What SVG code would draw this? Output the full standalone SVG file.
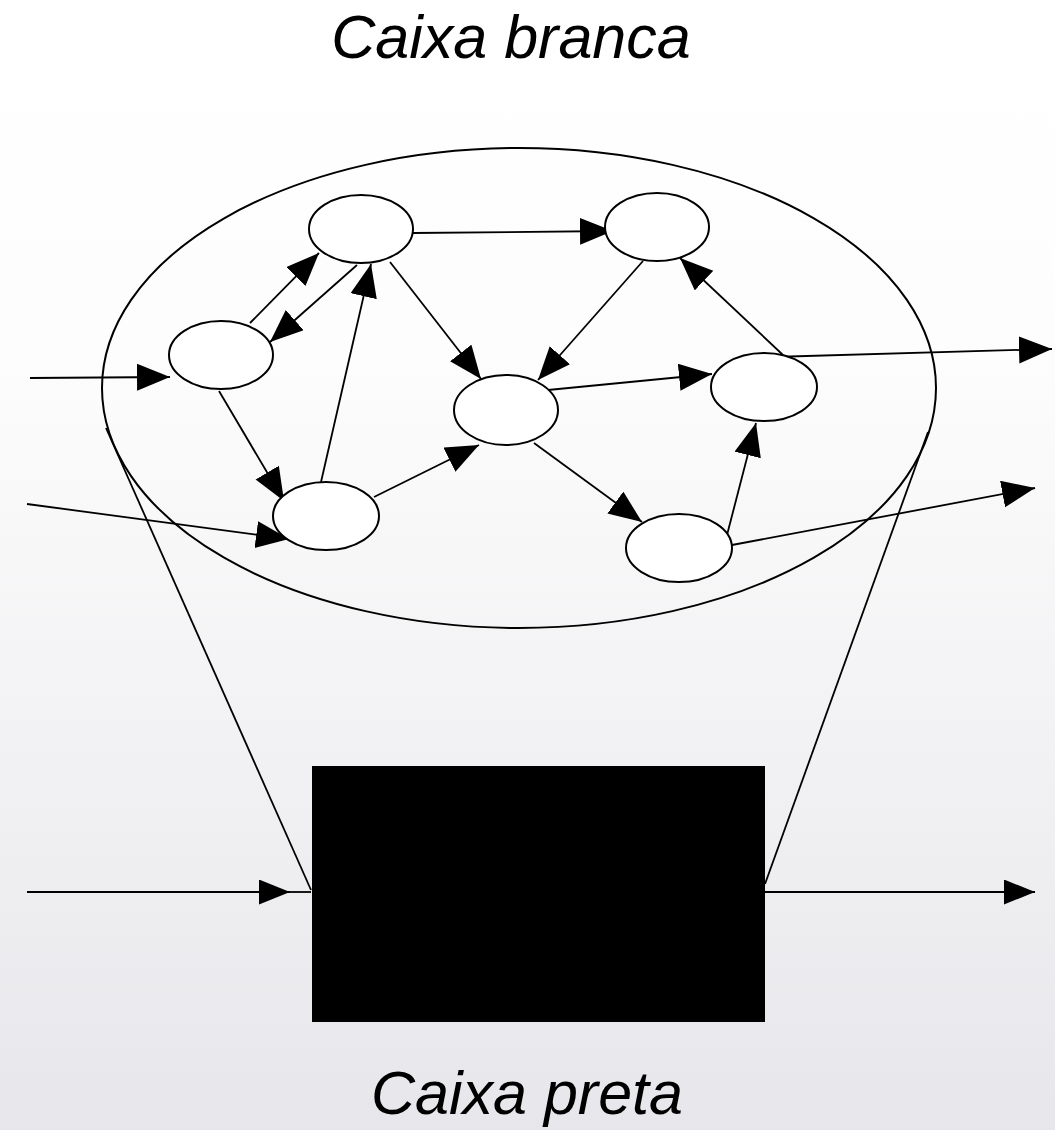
<svg xmlns="http://www.w3.org/2000/svg" width="1055" height="1130" viewBox="0 0 1055 1130">
  <defs>
    <linearGradient id="bg" x1="0" y1="0" x2="0" y2="1">
      <stop offset="0" stop-color="#ffffff"/>
      <stop offset="0.3" stop-color="#fdfdfd"/>
      <stop offset="1" stop-color="#e7e7eb"/>
    </linearGradient>
    <marker id="arr" markerUnits="userSpaceOnUse" markerWidth="34" markerHeight="28" refX="33" refY="13.5" orient="auto">
      <path d="M0,0 L33,13.5 L0,27 z" fill="#000"/>
    </marker>
    <marker id="arrs" markerUnits="userSpaceOnUse" markerWidth="32" markerHeight="26" refX="31" refY="12.5" orient="auto">
      <path d="M0,0 L31,12.5 L0,25 z" fill="#000"/>
    </marker>
  </defs>
  <style>
    .node { fill: #fff; stroke: #000; stroke-width: 2; }
    .edge { stroke: #000; stroke-width: 1.8; fill: none; marker-end: url(#arr); }
    .plain { stroke: #000; stroke-width: 1.8; fill: none; }
    .label { font-family: "Liberation Sans", Arial, sans-serif; font-style: italic; font-size: 61px; fill: #000; text-anchor: middle; }
  </style>
  <rect x="0" y="0" width="1055" height="1130" fill="url(#bg)"/>

  <text class="label" x="511" y="58">Caixa branca</text>
  <text class="label" x="527" y="1114">Caixa preta</text>

  <g id="whitebox">
    <ellipse cx="519" cy="388" rx="417" ry="240" fill="none" stroke="#000" stroke-width="2"/>
  </g>

  <g id="blackbox">
    <rect x="312" y="766" width="453" height="256" fill="#000"/>
  </g>

  <g id="connectors">
    <!-- funnel lines -->
    <line class="plain" x1="106" y1="428" x2="311" y2="890"/>
    <line class="plain" x1="928" y1="432" x2="765" y2="884"/>
    <!-- inputs -->
    <line class="edge" x1="30" y1="378" x2="170" y2="377"/>
    <line class="edge" x1="27" y1="504" x2="289" y2="539"/>
    <!-- internal -->
    <line class="edge" x1="250" y1="323" x2="319" y2="253"/>
    <line class="edge" x1="357" y1="265" x2="270" y2="342"/>
    <line class="edge" x1="321" y1="482" x2="371" y2="264"/>
    <line class="edge" x1="390" y1="262" x2="481" y2="379"/>
    <line class="edge" x1="413" y1="233" x2="613" y2="231"/>
    <line class="edge" x1="643" y1="261" x2="538" y2="380"/>
    <line class="edge" x1="783" y1="355" x2="680" y2="258"/>
    <line class="edge" x1="548" y1="390" x2="712" y2="374"/>
    <line class="edge" x1="219" y1="391" x2="284" y2="501"/>
    <line class="edge" x1="374" y1="497" x2="479" y2="445"/>
    <line class="edge" x1="534" y1="443" x2="642" y2="522"/>
    <line class="edge" x1="727" y1="535" x2="756" y2="423"/>
    <!-- outputs -->
    <line class="edge" x1="772" y1="357" x2="1052" y2="349"/>
    <line class="edge" x1="732" y1="545" x2="1035" y2="488"/>
    <!-- black box in/out -->
    <line class="plain" x1="27" y1="892" x2="290" y2="892" style="marker-end:url(#arrs)" />
    <line class="plain" x1="290" y1="892" x2="311" y2="892"/>
    <line class="plain" x1="765" y1="892" x2="1035" y2="892" style="marker-end:url(#arrs)"/>
  </g>

  <g id="nodeA"><ellipse class="node" cx="361" cy="229" rx="52" ry="34"/></g>
  <g id="nodeB"><ellipse class="node" cx="221" cy="355" rx="52" ry="34"/></g>
  <g id="nodeC"><ellipse class="node" cx="657" cy="227" rx="52" ry="34"/></g>
  <g id="nodeD"><ellipse class="node" cx="506" cy="410" rx="52" ry="35"/></g>
  <g id="nodeE"><ellipse class="node" cx="764" cy="387" rx="53" ry="34"/></g>
  <g id="nodeF"><ellipse class="node" cx="326" cy="516" rx="53" ry="34"/></g>
  <g id="nodeG"><ellipse class="node" cx="679" cy="548" rx="53" ry="34"/></g>
</svg>
